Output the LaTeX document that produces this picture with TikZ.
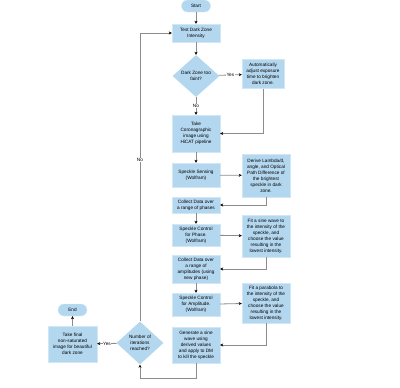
\documentclass[tikz,border=0pt]{standalone}
\usepackage{fontspec}
\setmainfont{Liberation Sans}
\usetikzlibrary{shapes.geometric, arrows.meta}
\definecolor{boxblue}{RGB}{180,215,240}
\definecolor{wiregray}{RGB}{140,140,140}
\tikzset{
	stepbox/.style={shape=rectangle, fill=boxblue, draw=boxblue!60!white, line width=0.4pt, inner sep=1pt, align=center, font=\fontsize{4.7}{6}\selectfont},
	pill/.style={stepbox, rounded corners=6pt, minimum width=29pt, minimum height=12pt},
	choice/.style={shape=diamond, fill=boxblue, inner sep=0pt, align=center, font=\fontsize{4.7}{6}\selectfont},
	wire/.style={draw=wiregray, line width=0.8pt, -{Stealth[length=3pt, width=3pt, black]}},
	tag/.style={fill=white, inner sep=0.5pt, font=\fontsize{4.7}{6}\selectfont}
}
\begin{document}
\begin{tikzpicture}[x=1pt, y=-1pt]
	\useasboundingbox (0,0) rectangle (400,388);
	% Paths, nodes and wires:
	\node[pill] (start) at (196, 6){Start};
	\node[stepbox, minimum width=48pt, minimum height=18pt] (test) at (196, 33){Test Dark Zone\\Intensity};
	\node[choice, minimum width=47pt, minimum height=42pt] (faint) at (196, 76){Dark Zone too\\faint?};
	\node[stepbox, minimum width=42pt, minimum height=29pt] (adjust) at (263, 74){Automatically\\adjust exposure\\time to brighten\\dark zone.};
	\node[stepbox, minimum width=48pt, minimum height=37pt] (take) at (196, 133.5){Take\\Coronagraphic\\image using\\HiCAT pipeline};
	\node[stepbox, minimum width=48pt, minimum height=24pt] (sense) at (196, 175){Speckle Sensing\\(Wolfram)};
	\node[stepbox, minimum width=48pt, minimum height=43pt] (derive) at (266, 175.5){Derive Lambda/d,\\angle, and Optical\\Path Difference of\\the brightest\\speckle in dark\\zone.};
	\node[stepbox, minimum width=48pt, minimum height=16pt] (phases) at (196, 205){Collect Data over\\a range of phases};
	\node[stepbox, minimum width=48pt, minimum height=22pt] (phase) at (196, 235){Speckle Control\\for Phase.\\(Wolfram)};
	\node[stepbox, minimum width=48pt, minimum height=42pt] (fitsine) at (266, 236){Fit a sine wave to\\the intensity of the\\speckle, and\\choose the value\\resulting in the\\lowest intensity.};
	\node[stepbox, minimum width=48pt, minimum height=28pt] (amps) at (196, 269){Collect Data over\\a range of\\amplitudes (using\\new phase)};
	\node[stepbox, minimum width=48pt, minimum height=23pt] (ampl) at (196, 304.5){Speckle Control\\for Amplitude.\\(Wolfram)};
	\node[stepbox, minimum width=48pt, minimum height=40pt] (fitpar) at (266, 303){Fit a parabola to\\the intensity of the\\speckle, and\\choose the value\\resulting in the\\lowest intensity.};
	\node[stepbox, minimum width=48pt, minimum height=36pt] (gen) at (196, 345){Generate a sine\\wave using\\derived values\\and apply to DM\\to kill the speckle};
	\node[choice, minimum width=47pt, minimum height=43pt] (iter) at (140, 343){Number of\\iterations\\reached?};
	\node[stepbox, minimum width=49pt, minimum height=36pt] (final) at (72.5, 344){Take final\\non-saturated\\image for beautiful\\dark zone};
	\node[pill] (end) at (72.5, 310){End};
	\coordinate (lowturn) at (140, 378);
	\draw[wire] (start) -- (test);
	\draw[wire] (test) -- (faint);
	\draw[wire] (faint) -- node[tag]{Yes} (adjust);
	\draw[wire] (faint) -- node[tag]{No} (take);
	\draw[wire] (adjust.south) |- (take.east);
	\draw[wire] (take) -- (sense);
	\draw[wire] (sense) -- (derive);
	\draw[wire] (derive.south) |- (phases.east);
	\draw[wire] (phases) -- (phase);
	\draw[wire] (phase) -- (fitsine);
	\draw[wire] (fitsine.south) |- (amps.east);
	\draw[wire] (amps) -- (ampl);
	\draw[wire] (ampl) -- (fitpar);
	\draw[wire] (fitpar.south) |- (gen.east);
	\draw[wire] (gen.south) |- (lowturn) -- (iter.south);
	\draw[wire] (iter.north) |- node[tag, pos=0.28]{No} (test.west);
	\draw[wire] (iter) -- node[tag]{Yes} (final);
	\draw[wire] (final) -- (end);
\end{tikzpicture}
\end{document}
